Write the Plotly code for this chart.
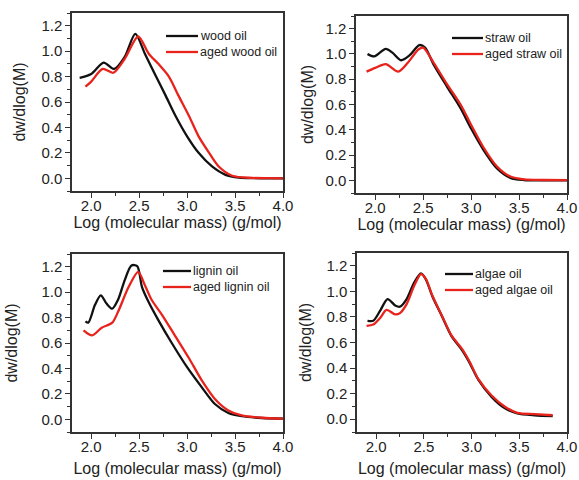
import plotly.graph_objects as go

# ---- data ----
wood_x = [1.88, 2.0, 2.13, 2.24, 2.35, 2.46, 2.56, 2.67, 2.77, 2.88, 3.0, 3.12, 3.26, 3.40, 3.54, 3.7, 3.85, 4.0]
wood_y = [0.79, 0.82, 0.91, 0.86, 0.955, 1.136, 0.98, 0.81, 0.66, 0.49, 0.33, 0.20, 0.093, 0.027, 0.005, 0.001, 0.0, 0.0]
aged_wood_x = [1.94, 2.0, 2.12, 2.23, 2.35, 2.49, 2.60, 2.70, 2.81, 2.91, 3.02, 3.12, 3.23, 3.33, 3.47, 3.68, 3.85, 4.0]
aged_wood_y = [0.72, 0.76, 0.86, 0.83, 0.94, 1.115, 0.98, 0.90, 0.80, 0.65, 0.49, 0.33, 0.20, 0.093, 0.02, 0.003, 0.001, 0.0]

straw_x = [1.92, 1.99, 2.11, 2.18, 2.27, 2.36, 2.46, 2.52, 2.61, 2.75, 2.89, 3.0, 3.13, 3.27, 3.41, 3.55, 3.75, 4.0]
straw_y = [1.0, 0.98, 1.04, 1.01, 0.95, 0.99, 1.07, 1.05, 0.915, 0.74, 0.57, 0.41, 0.24, 0.095, 0.02, 0.003, 0.0, 0.0]
aged_straw_x = [1.91, 2.0, 2.11, 2.24, 2.34, 2.45, 2.5, 2.61, 2.75, 2.89, 3.0, 3.13, 3.27, 3.41, 3.55, 3.75, 4.0]
aged_straw_y = [0.86, 0.89, 0.92, 0.86, 0.93, 1.035, 1.05, 0.93, 0.76, 0.60, 0.44, 0.26, 0.11, 0.03, 0.008, 0.003, 0.002]

lignin_x = [1.94, 1.97, 2.04, 2.10, 2.16, 2.22, 2.28, 2.35, 2.42, 2.48, 2.53, 2.60, 2.70, 2.84, 3.0, 3.15, 3.29, 3.43, 3.57, 3.78, 4.0]
lignin_y = [0.77, 0.76, 0.90, 0.975, 0.91, 0.87, 0.94, 1.095, 1.21, 1.205, 1.04, 0.92, 0.78, 0.60, 0.41, 0.255, 0.12, 0.05, 0.024, 0.01, 0.005]
aged_lignin_x = [1.92, 2.01, 2.11, 2.22, 2.28, 2.39, 2.49, 2.56, 2.63, 2.74, 2.88, 3.02, 3.15, 3.29, 3.43, 3.57, 3.78, 4.0]
aged_lignin_y = [0.70, 0.66, 0.72, 0.76, 0.845, 1.04, 1.16, 1.055, 0.94, 0.82, 0.65, 0.48, 0.31, 0.16, 0.07, 0.03, 0.012, 0.005]

algae_x = [1.91, 1.97, 2.04, 2.12, 2.20, 2.25, 2.32, 2.40, 2.47, 2.52, 2.59, 2.69, 2.79, 2.90, 2.98, 3.07, 3.21, 3.35, 3.48, 3.66, 3.85]
algae_y = [0.77, 0.77, 0.845, 0.94, 0.89, 0.88, 0.94, 1.07, 1.14, 1.095, 0.96, 0.805, 0.65, 0.54, 0.44, 0.31, 0.175, 0.085, 0.045, 0.03, 0.024]
aged_algae_x = [1.90, 1.97, 2.04, 2.11, 2.20, 2.25, 2.32, 2.40, 2.47, 2.52, 2.59, 2.69, 2.79, 2.90, 2.98, 3.07, 3.21, 3.35, 3.48, 3.66, 3.85]
aged_algae_y = [0.73, 0.74, 0.79, 0.855, 0.82, 0.83, 0.90, 1.045, 1.135, 1.10, 0.965, 0.81, 0.655, 0.55, 0.45, 0.315, 0.185, 0.097, 0.05, 0.04, 0.031]

x_ticks = [2.0, 2.5, 3.0, 3.5, 4.0]
x_tick_labels = ["2.0", "2.5", "3.0", "3.5", "4.0"]
y_ticks = [0.0, 0.2, 0.4, 0.6, 0.8, 1.0, 1.2]
y_tick_labels = ["0.0", "0.2", "0.4", "0.6", "0.8", "1.0", "1.2"]

panels = [
    ("wood oil", wood_x, wood_y, "aged wood oil", aged_wood_x, aged_wood_y),
    ("straw oil", straw_x, straw_y, "aged straw oil", aged_straw_x, aged_straw_y),
    ("lignin oil", lignin_x, lignin_y, "aged lignin oil", aged_lignin_x, aged_lignin_y),
    ("algae oil", algae_x, algae_y, "aged algae oil", aged_algae_x, aged_algae_y),
]

W, H = 579, 480
# plot frames in pixels: (left, right, top, bottom)
frames = [(72, 283, 13, 191), (356, 567, 16, 193), (72, 283, 254, 432), (357, 567, 253, 432)]
# legend sample line: (x0, x1, y row1, y row2) in pixels
legend_pos = [(166, 198, 36, 52), (452, 483, 38, 54), (163, 191, 271, 287), (445, 473, 274, 290)]
# title standoffs per panel: (x title, y title)
title_standoff = [(3, 12), (3, 8), (9, 20), (9, 11)]

BLACK = "#111111"
RED = "#e8231c"
AX = "#333333"
TXT = "#222222"
FONT = "Liberation Sans, Arial, sans-serif"

fig = go.Figure()
layout = dict(
    width=W, height=H,
    margin=dict(l=0, r=0, t=0, b=0),
    paper_bgcolor="white", plot_bgcolor="white",
    font=dict(family=FONT, color=TXT),
    showlegend=False,
)
shapes = []
annotations = []

for i, (n1, x1, y1, n2, x2, y2) in enumerate(panels):
    k = "" if i == 0 else str(i + 1)
    fig.add_trace(go.Scatter(x=x1, y=y1, name=n1, mode="lines",
                             line=dict(color=BLACK, width=2.3, shape="spline", smoothing=0.8),
                             xaxis="x" + k, yaxis="y" + k))
    fig.add_trace(go.Scatter(x=x2, y=y2, name=n2, mode="lines",
                             line=dict(color=RED, width=2.3, shape="spline", smoothing=0.8),
                             xaxis="x" + k, yaxis="y" + k))
    l, r, t, b = frames[i]
    sx, sy = title_standoff[i]
    common = dict(showline=True, linecolor=AX, linewidth=1.5, mirror=True,
                  showgrid=False, zeroline=False, ticks="outside", ticklen=5,
                  tickwidth=1.3, tickcolor=AX, tickfont=dict(size=15, color=TXT),
                  automargin=False)
    layout["xaxis" + k] = dict(
        common, domain=[l / W, r / W], range=[1.8, 4.0], anchor="y" + k,
        tickvals=x_ticks, ticktext=x_tick_labels, ticklabelstandoff=-5,
        minor=dict(ticks="outside", ticklen=3, dtick=0.25, tick0=2.0, tickcolor=AX, tickwidth=1.2),
        title=dict(text="Log (molecular mass) (g/mol)", font=dict(size=16, color=TXT), standoff=sx),
    )
    layout["yaxis" + k] = dict(
        common, domain=[1 - b / H, 1 - t / H], range=[-0.1, 1.3], anchor="x" + k,
        tickvals=y_ticks, ticktext=y_tick_labels,
        minor=dict(ticks="outside", ticklen=3, dtick=0.1, tick0=0.0, tickcolor=AX, tickwidth=1.2),
        title=dict(text="dw/dlog(M)", font=dict(size=16, color=TXT), standoff=sy),
    )
    # manual legend
    lx0, lx1, r1, r2 = legend_pos[i]
    for (yy, col, name) in ((r1, BLACK, n1), (r2, RED, n2)):
        shapes.append(dict(type="line", xref="paper", yref="paper",
                           x0=lx0 / W, x1=lx1 / W, y0=1 - yy / H, y1=1 - yy / H,
                           line=dict(color=col, width=2.3)))
        annotations.append(dict(xref="paper", yref="paper", x=(lx1 + 1) / W, y=1 - yy / H,
                                xanchor="left", yanchor="middle", showarrow=False, borderpad=0,
                                text=name, font=dict(size=12.5, color=TXT, family=FONT)))

layout["shapes"] = shapes
layout["annotations"] = annotations
fig.update_layout(**layout)
fig.write_html("out.html", config={"displayModeBar": False},
               post_script="document.body.style.margin='0';document.body.style.overflow='hidden';")
